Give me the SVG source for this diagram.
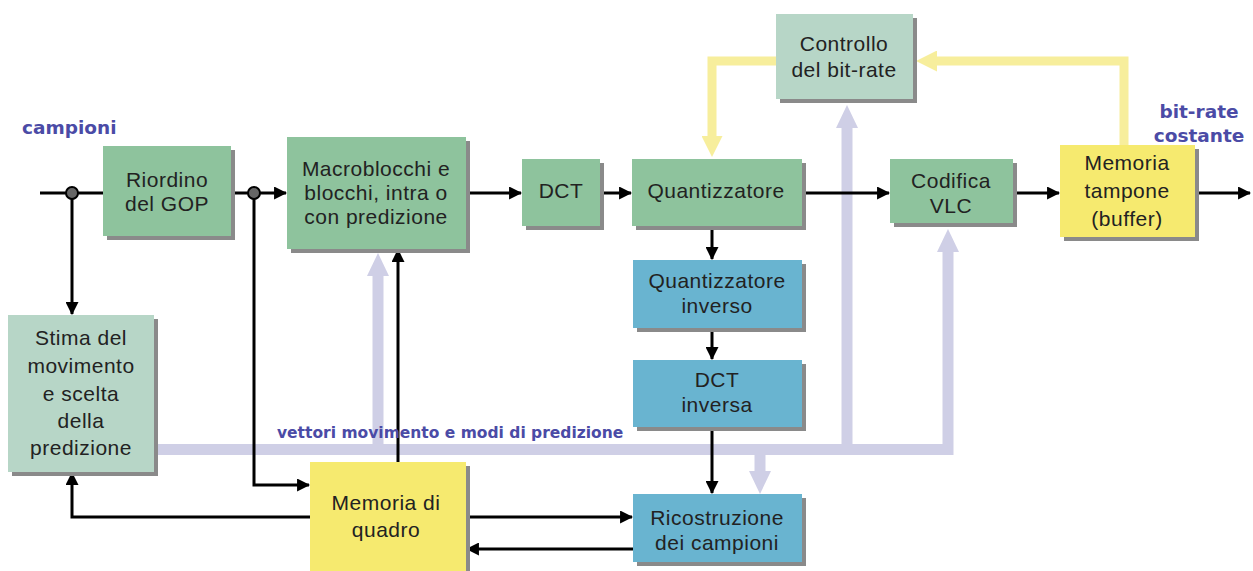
<svg xmlns="http://www.w3.org/2000/svg" width="1253" height="571" viewBox="0 0 1253 571">
<defs>
<marker id="ah" viewBox="0 0 12 12" refX="11" refY="6" markerWidth="13" markerHeight="13" markerUnits="userSpaceOnUse" orient="auto"><path d="M0,0 L12,6 L0,12 Z" fill="#000"/></marker>
<marker id="ahL" viewBox="0 0 10 10" refX="0" refY="5" markerWidth="23" markerHeight="22" markerUnits="userSpaceOnUse" orient="auto" preserveAspectRatio="none"><path d="M0,0 L10,5 L0,10 Z" fill="#cfcfe6"/></marker>
<marker id="ahY" viewBox="0 0 10 10" refX="0" refY="5" markerWidth="21" markerHeight="21" markerUnits="userSpaceOnUse" orient="auto" preserveAspectRatio="none"><path d="M0,0 L10,5 L0,10 Z" fill="#f7ee9c"/></marker>
</defs>
<style>
.sh{fill:#8a8a8a}
.g{fill:#8ec39d}
.lg{fill:#b7d6c7}
.b{fill:#69b4d0}
.y{fill:#f6ea6f}
.t{font-family:"Liberation Sans",Arial,sans-serif;font-size:21px;letter-spacing:0.5px;fill:#222;text-anchor:middle}
.lab{font-family:"DejaVu Sans","Liberation Sans",sans-serif;font-weight:bold;fill:#4b4ba6}
.k{stroke:#000;stroke-width:3;fill:none}
.lv{stroke:#cfcfe6;stroke-width:11;fill:none}
.yl{stroke:#f7ee9c;stroke-width:9;fill:none}
</style>
<rect width="1253" height="571" fill="#fff"/>

<g id="connectors">
<!-- lavender bus -->
<path class="lv" d="M154,449.5 H948 V252" marker-end="url(#ahL)"/>
<path class="lv" d="M378,449.5 V276" marker-end="url(#ahL)"/>
<path class="lv" d="M847,449.5 V128" marker-end="url(#ahL)"/>
<path class="lv" d="M760,449.5 V471" marker-end="url(#ahL)"/>
<!-- yellow feedback -->
<path class="yl" d="M1124,145 V61 H937" marker-end="url(#ahY)"/>
<path class="yl" d="M776,61 H712 V136" marker-end="url(#ahY)"/>
<!-- black -->
<path class="k" d="M40,193 H103"/>
<path class="k" d="M72,193 V314" marker-end="url(#ah)"/>
<path class="k" d="M231,193 H286" marker-end="url(#ah)"/>
<path class="k" d="M254,193 V485 H309" marker-end="url(#ah)"/>
<path class="k" d="M466,193 H521" marker-end="url(#ah)"/>
<path class="k" d="M600,193 H631" marker-end="url(#ah)"/>
<path class="k" d="M802,193 H889" marker-end="url(#ah)"/>
<path class="k" d="M1013,193 H1059" marker-end="url(#ah)"/>
<path class="k" d="M1195,193 H1250" marker-end="url(#ah)"/>
<path class="k" d="M712,226 V259" marker-end="url(#ah)"/>
<path class="k" d="M712,328 V359" marker-end="url(#ah)"/>
<path class="k" d="M712,427 V493" marker-end="url(#ah)"/>
<path class="k" d="M466,517 H632" marker-end="url(#ah)"/>
<path class="k" d="M633,549 H467" marker-end="url(#ah)"/>
<path class="k" d="M310,517 H72 V473" marker-end="url(#ah)"/>
<path class="k" d="M398,462 V250" marker-end="url(#ah)"/>
<circle cx="72" cy="193" r="6" fill="#666" stroke="#000" stroke-width="2"/>
<circle cx="254" cy="193" r="6" fill="#666" stroke="#000" stroke-width="2"/>
</g>

<text class="lab" x="22" y="134" font-size="18.5">campioni</text>
<text class="lab" x="1199" y="118" font-size="18.5" text-anchor="middle">bit-rate</text>
<text class="lab" x="1199" y="142" font-size="18.5" text-anchor="middle">costante</text>
<text class="lab" x="277" y="438" font-size="15.5">vettori movimento e modi di predizione</text>

<g id="riordino"><rect class="sh" x="107" y="150" width="128" height="90"/><rect class="g" x="103" y="146" width="128" height="90"/><text class="t" x="167" y="187">Riordino</text><text class="t" x="167" y="211">del GOP</text></g>

<g id="macroblocchi"><rect class="sh" x="291" y="141" width="179" height="112"/><rect class="g" x="287" y="137" width="179" height="112"/><text class="t" x="376" y="176">Macroblocchi e</text><text class="t" x="376" y="200">blocchi, intra o</text><text class="t" x="376" y="224">con predizione</text></g>

<g id="dct"><rect class="sh" x="526" y="163" width="78" height="67"/><rect class="g" x="522" y="159" width="78" height="67"/><text class="t" x="561" y="198">DCT</text></g>

<g id="quantizzatore"><rect class="sh" x="636" y="163" width="170" height="67"/><rect class="g" x="632" y="159" width="170" height="67"/><text class="t" x="716" y="198">Quantizzatore</text></g>

<g id="controllo"><rect class="sh" x="780" y="18" width="137" height="85"/><rect class="lg" x="776" y="14" width="137" height="85"/><text class="t" x="844" y="51">Controllo</text><text class="t" x="844" y="77">del bit-rate</text></g>

<g id="codifica"><rect class="sh" x="894" y="163" width="123" height="64"/><rect class="g" x="890" y="159" width="123" height="64"/><text class="t" x="951" y="188">Codifica</text><text class="t" x="951" y="213">VLC</text></g>

<g id="tampone"><rect class="sh" x="1064" y="149" width="135" height="92"/><rect class="y" x="1060" y="145" width="135" height="92"/><text class="t" x="1127" y="170">Memoria</text><text class="t" x="1127" y="198">tampone</text><text class="t" x="1127" y="226">(buffer)</text></g>

<g id="qinverso"><rect class="sh" x="637" y="264" width="169" height="68"/><rect class="b" x="633" y="260" width="169" height="68"/><text class="t" x="717" y="288">Quantizzatore</text><text class="t" x="717" y="313">inverso</text></g>

<g id="dctinversa"><rect class="sh" x="637" y="364" width="169" height="67"/><rect class="b" x="633" y="360" width="169" height="67"/><text class="t" x="717" y="387">DCT</text><text class="t" x="717" y="412">inversa</text></g>

<g id="ricostruzione"><rect class="sh" x="637" y="498" width="169" height="68"/><rect class="b" x="633" y="494" width="169" height="68"/><text class="t" x="717" y="525">Ricostruzione</text><text class="t" x="717" y="550">dei campioni</text></g>

<g id="memoriaquadro"><rect class="sh" x="314" y="466" width="156" height="110"/><rect class="y" x="310" y="462" width="156" height="110"/><text class="t" x="386" y="510">Memoria di</text><text class="t" x="386" y="537">quadro</text></g>

<g id="stima"><rect class="sh" x="12" y="319" width="146" height="157"/><rect class="lg" x="8" y="315" width="146" height="157"/><text class="t" x="81" y="345">Stima del</text><text class="t" x="81" y="373">movimento</text><text class="t" x="81" y="401">e scelta</text><text class="t" x="81" y="428">della</text><text class="t" x="81" y="455">predizione</text></g>
</svg>
